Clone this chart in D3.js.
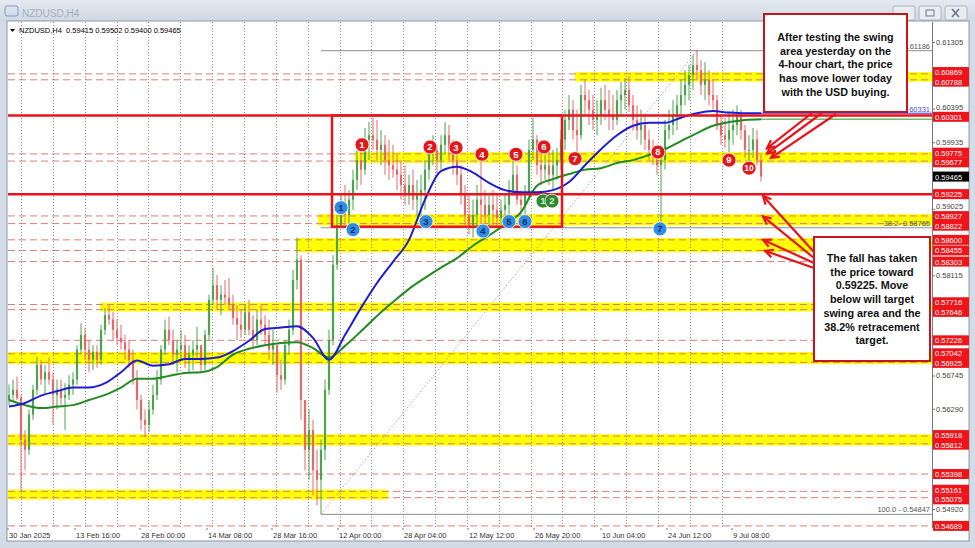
<!DOCTYPE html>
<html><head><meta charset="utf-8">
<script src="https://cdn.jsdelivr.net/npm/d3@7"></script>
<style>body{margin:0;background:#d5dde8;}svg{display:block;font-family:"Liberation Sans",Arial,sans-serif;}</style>
</head><body><svg id="c" width="975" height="548"></svg>
<script>
// ---------------- DATA ----------------
const highs=[0.5662,0.5669,0.5673,0.5648,0.5600,0.5628,0.5662,0.5700,0.5696,0.5689,
0.5699,0.5679,0.5669,0.5669,0.5664,0.5675,0.5679,0.5716,0.5746,0.5740,
0.5723,0.5716,0.5716,0.5744,0.5767,0.5771,0.5761,0.5751,0.5744,0.5730,
0.5723,0.5710,0.5682,0.5648,0.5628,0.5641,0.5662,0.5682,0.5716,0.5751,
0.5755,0.5737,0.5723,0.5737,0.5730,0.5716,0.5723,0.5741,0.5716,0.5737,
0.5785,0.5822,0.5812,0.5798,0.5805,0.5808,0.5785,0.5771,0.5764,0.5771,
0.5778,0.5757,0.5764,0.5771,0.5757,0.5751,0.5737,0.5716,0.5696,0.5723,
0.5751,0.5819,0.5863,0.5839,0.5641,0.5628,0.5614,0.5573,0.5587,0.5669,
0.5737,0.5839,0.5894,0.5921,0.5935,0.5928,0.5956,0.5983,0.5997,0.6013,
0.6021,0.6027,0.6024,0.6010,0.6003,0.5997,0.5990,0.5976,0.5969,0.5962,
0.5949,0.5956,0.5942,0.5949,0.5969,0.5997,0.6003,0.5990,0.6003,0.6021,
0.6017,0.5997,0.5990,0.5962,0.5935,0.5921,0.5915,0.5935,0.5972,0.5928,
0.5921,0.5928,0.5921,0.5915,0.5921,0.5942,0.5972,0.5962,0.5928,0.5935,
0.5997,0.6027,0.6003,0.5990,0.5986,0.5983,0.5983,0.5986,0.6010,0.6038,
0.6058,0.6051,0.6038,0.6072,0.6079,0.6065,0.6058,0.6051,0.6068,0.6072,
0.6065,0.6058,0.6065,0.6076,0.6081,0.6084,0.6058,0.6044,0.6038,0.6031,
0.6010,0.5997,0.5990,0.5983,0.6024,0.6038,0.6051,0.6058,0.6079,0.6092,
0.6099,0.6113,0.6119,0.6106,0.6103,0.6092,0.6079,0.6058,0.6031,0.6027,
0.6035,0.6038,0.6044,0.6038,0.6017,0.6003,0.6013,0.6010,0.5976];
const lows=[0.5634,0.5638,0.5641,0.5518,0.5545,0.5566,0.5614,0.5648,0.5662,0.5648,
0.5662,0.5607,0.5628,0.5634,0.5600,0.5641,0.5648,0.5662,0.5703,0.5696,
0.5679,0.5682,0.5685,0.5689,0.5730,0.5744,0.5723,0.5716,0.5710,0.5696,
0.5685,0.5662,0.5628,0.5600,0.5590,0.5597,0.5621,0.5641,0.5662,0.5703,
0.5716,0.5689,0.5679,0.5696,0.5685,0.5678,0.5682,0.5699,0.5679,0.5682,
0.5723,0.5771,0.5764,0.5757,0.5771,0.5764,0.5744,0.5723,0.5726,0.5730,
0.5730,0.5710,0.5716,0.5730,0.5716,0.5696,0.5689,0.5651,0.5655,0.5662,
0.5703,0.5730,0.5792,0.5614,0.5545,0.5532,0.5511,0.5497,0.5485,0.5559,
0.5648,0.5716,0.5819,0.5876,0.5880,0.5875,0.5901,0.5928,0.5935,0.5949,
0.5969,0.5983,0.5969,0.5962,0.5949,0.5942,0.5945,0.5928,0.5915,0.5908,
0.5908,0.5901,0.5894,0.5894,0.5901,0.5942,0.5962,0.5949,0.5956,0.5976,
0.5969,0.5949,0.5935,0.5908,0.5880,0.5867,0.5863,0.5874,0.5867,0.5876,
0.5874,0.5880,0.5876,0.5880,0.5887,0.5894,0.5921,0.5908,0.5890,0.5894,
0.5915,0.5969,0.5949,0.5935,0.5942,0.5935,0.5928,0.5942,0.5956,0.5983,
0.6010,0.5997,0.5980,0.5997,0.6031,0.6017,0.6010,0.6003,0.6017,0.6024,
0.6010,0.6010,0.6017,0.6031,0.6038,0.6035,0.6010,0.5997,0.5990,0.5983,
0.5969,0.5962,0.5949,0.5878,0.5956,0.5997,0.6003,0.6010,0.6031,0.6044,
0.6051,0.6065,0.6079,0.6058,0.6051,0.6044,0.6038,0.6010,0.5990,0.5986,
0.5980,0.5990,0.6003,0.5997,0.5972,0.5967,0.5972,0.5962,0.5940];
const closes=[0.5648,0.5655,0.5644,0.5587,0.5573,0.5621,0.5655,0.5689,0.5669,0.5679,
0.5669,0.5648,0.5655,0.5644,0.5648,0.5662,0.5669,0.5710,0.5730,0.5710,
0.5696,0.5707,0.5696,0.5737,0.5757,0.5751,0.5737,0.5726,0.5720,0.5710,
0.5696,0.5671,0.5641,0.5614,0.5607,0.5628,0.5648,0.5669,0.5710,0.5737,
0.5723,0.5703,0.5710,0.5716,0.5696,0.5703,0.5710,0.5716,0.5689,0.5730,
0.5778,0.5798,0.5778,0.5785,0.5781,0.5771,0.5753,0.5744,0.5737,0.5761,
0.5737,0.5723,0.5751,0.5744,0.5730,0.5710,0.5716,0.5675,0.5669,0.5716,
0.5737,0.5805,0.5833,0.5641,0.5573,0.5600,0.5545,0.5532,0.5573,0.5655,
0.5723,0.5826,0.5880,0.5901,0.5894,0.5915,0.5942,0.5969,0.5956,0.5997,
0.6003,0.5997,0.5983,0.5990,0.5969,0.5962,0.5956,0.5949,0.5935,0.5921,
0.5935,0.5915,0.5921,0.5928,0.5956,0.5983,0.5983,0.5969,0.5990,0.6003,
0.5983,0.5969,0.5949,0.5921,0.5894,0.5880,0.5894,0.5915,0.5908,0.5894,
0.5908,0.5901,0.5890,0.5901,0.5908,0.5928,0.5949,0.5915,0.5908,0.5921,
0.5983,0.5997,0.5962,0.5956,0.5962,0.5949,0.5962,0.5969,0.5997,0.6024,
0.6038,0.6010,0.6003,0.6058,0.6051,0.6038,0.6024,0.6031,0.6051,0.6038,
0.6031,0.6024,0.6051,0.6058,0.6065,0.6044,0.6024,0.6010,0.6017,0.5997,
0.5983,0.5976,0.5962,0.5969,0.6010,0.6017,0.6031,0.6044,0.6058,0.6072,
0.6085,0.6099,0.6092,0.6072,0.6079,0.6058,0.6051,0.6017,0.6003,0.5997,
0.6010,0.6017,0.6031,0.6010,0.5983,0.5983,0.5997,0.5969,0.59465];
const firstOpen=0.5641;
// moving averages sampled every 4th bar
const maStep=4;
const blueMA=[0.5632,0.5637,0.5647,0.5653,0.5658,0.5658,0.5664,0.5679,0.5695,0.5688,0.5690,0.5697,0.5697,0.5699,0.5708,0.5722,0.5738,0.5740,0.5742,0.5726,0.5696,0.5730,0.5767,0.5801,0.5830,0.5860,0.5915,0.5954,0.5960,0.5952,0.5938,0.5928,0.5925,0.5925,0.5928,0.5939,0.5962,0.5984,0.6003,0.6016,0.6020,0.6020,0.6027,0.6033,0.6036,0.6034,0.6033,0.6033];
const greenMA=[0.5641,0.5634,0.5630,0.5632,0.5634,0.5641,0.5648,0.5658,0.5670,0.5670,0.5674,0.5678,0.5679,0.5686,0.5703,0.5711,0.5716,0.5719,0.5720,0.5712,0.5699,0.5715,0.5735,0.5756,0.5775,0.5793,0.5808,0.5822,0.5835,0.5852,0.5866,0.5881,0.5898,0.5934,0.5943,0.5950,0.5956,0.5958,0.5965,0.5969,0.5976,0.5984,0.5995,0.6006,0.6016,0.6021,0.6024,0.6025];
// x axis
const dateLabels=["30 Jan 2025","13 Feb 16:00","28 Feb 00:00","14 Mar 08:00","28 Mar 16:00","12 Apr 00:00","28 Apr 04:00","12 May 12:00","26 May 20:00","10 Jun 04:00","24 Jun 12:00","9 Jul 08:00"];
const dateIdx=[-0.25,16.5,32.75,49.5,65.75,82.25,98.5,114.75,131.25,148,164.5,180.75];
// y axis
const priceTicks=[0.61305,0.60395,0.59935,0.59025,0.58115,0.56745,0.56290,0.54920];
const levelLabels=[0.60788,0.60869,0.60301,0.59775,0.59677,0.59225,0.58927,0.58822,0.58600,0.58455,0.58303,0.57716,0.57646,0.57226,0.57042,0.56925,0.55918,0.55812,0.55398,0.55161,0.55075,0.54689];
const solidLevels=[0.60301,0.59225];
const currentPrice=0.59465;
const bandHi=[0.60869,0.59775,0.58927,0.58600,0.57716,0.57042,0.55918,0.55161];
const bandLo=[0.60788,0.59677,0.58822,0.58455,0.57646,0.56925,0.55812,0.55075];
const bandFrom=[141.5,86.5,77.25,71.75,22.75,-0.25,-0.25,-0.25];
const bandTo=[null,null,null,null,null,null,null,94.75];
// fibonacci
const fibLowIdx=78, fibHighIdx=172;
const fibLevels=[0.61186,0.58765,0.54847];
const fibTexts=["0.61186","38.2- 0.58765","100.0 - 0.54847"];
const maLineValue=0.60331;
// swing box
const boxIdx=[80.75,138.25], boxPrice=[0.60301,0.5878];
// markers
const redNums=["1","2","3","4","5","6","7","8","9","10"];
const redIdx=[88.25,105.25,111.75,118.25,126.75,133.75,141.5,162.25,180,185];
const redPrice=[0.5990,0.5987,0.5986,0.5977,0.5977,0.5987,0.5971,0.5980,0.5969,0.5958];
const blueNums=["1","2","3","4","5","6","7"];
const blueIdx=[83,86,104.25,118.5,125,129,162.75];
const bluePrice=[0.5904,0.5874,0.5885,0.5872,0.5885,0.5885,0.5875];
const greenNums=["1","2"];
const greenIdx=[133.5,135.75];
const greenPrice=[0.5913,0.5913];
const header="NZDUSD,H4  0.59415 0.59502 0.59400 0.59465";
const note1=["After testing the swing","area yesterday on the","4-hour chart, the price","has move lower today","with the USD buying."];
const note2=["The fall has taken","the price toward","0.59225.  Move","below will target","swing area and the","38.2% retracement","target."];
// arrow tips (bar index, price)
const arrowUpIdx=[189.5,189.5,190.5], arrowUpPrice=[0.5985,0.5978,0.5972];
const arrowDnIdx=[188.5,188.5,188.5,189], arrowDnPrice=[0.5920,0.5892,0.5860,0.5845];

// ---------------- LAYOUT ----------------
const svg=d3.select("#c");
const N=closes.length;
const PL=8,PR=932,PT=22,PB=528;
const x=d3.scaleLinear().domain([0,N-1]).range([9,761]);
const y=d3.scaleLinear().domain([0.546602,0.615784]).range([PB,PT]);
const fs=7.5;

// window chrome
const defs=svg.append("defs");
const g1=defs.append("linearGradient").attr("id","tb").attr("x1",0).attr("x2",0).attr("y1",0).attr("y2",1);
g1.append("stop").attr("offset","0").attr("stop-color","#e4eaf2");
g1.append("stop").attr("offset","1").attr("stop-color","#cfd8e3");
svg.append("rect").attr("width",975).attr("height",548).attr("fill","#d3dbe6");
svg.append("rect").attr("width",975).attr("height",21).attr("fill","url(#tb)");
svg.append("rect").attr("x",5).attr("y",6).attr("width",13).attr("height",10).attr("fill","none").attr("stroke","#7d9bc4").attr("rx",2);
svg.append("text").attr("x",22).attr("y",17).attr("font-size",10).attr("fill","#a4aebd").text("NZDUSD,H4");
[893,919,945].forEach((bx,i)=>{
  svg.append("rect").attr("x",bx).attr("y",6).attr("width",22).attr("height",14).attr("rx",2).attr("fill","#e8edf3").attr("stroke","#aab4c2");
});
svg.append("rect").attr("x",926).attr("y",10).attr("width",8).attr("height",6).attr("fill","none").attr("stroke","#6a7788");
svg.append("path").attr("d","M952,9 L959,17 M959,9 L952,17").attr("stroke","#6a7788").attr("stroke-width",1.6);
svg.append("path").attr("d","M900,15 L908,15").attr("stroke","#6a7788").attr("stroke-width",1.6);
svg.append("rect").attr("x",7).attr("y",21).attr("width",962).attr("height",520).attr("fill","#fff").attr("stroke","#8c97a6");

svg.append("clipPath").attr("id","pc").append("rect").attr("x",PL).attr("y",PT).attr("width",PR-PL).attr("height",PB-PT);
const P=svg.append("g").attr("clip-path","url(#pc)");

// yellow bands
bandHi.forEach((h,i)=>{
  const xa=x(bandFrom[i]), xb=bandTo[i]==null?PR:x(bandTo[i]);
  P.append("rect").attr("x",xa).attr("width",xb-xa).attr("y",y(h)-1.8).attr("height",y(bandLo[i])-y(h)+3.6).attr("fill","#ffff00");
});
// dashed level lines
levelLabels.filter(v=>!solidLevels.includes(v)).forEach(v=>{
  P.append("line").attr("x1",PL).attr("x2",PR).attr("y1",y(v)).attr("y2",y(v)).attr("stroke","#d9807a").attr("stroke-width",1).attr("stroke-dasharray","7,4");
});
// grid
for(let gx=21;gx<=752;gx+=31.85){
  P.append("line").attr("x1",Math.round(gx)+0.5).attr("x2",Math.round(gx)+0.5).attr("y1",PT).attr("y2",PB).attr("stroke","#8a8a8a").attr("stroke-width",1).attr("stroke-dasharray","1,2");
}
// fib lines
fibLevels.forEach((v,i)=>{
  P.append("line").attr("x1",x(fibLowIdx)).attr("x2",PR).attr("y1",y(v)).attr("y2",y(v)).attr("stroke","#8d8d8d").attr("stroke-width",1);
  P.append("text").attr("x",PR-2).attr("y",y(v)-2).attr("text-anchor","end").attr("font-size",fs).attr("fill","#555").text(fibTexts[i]);
});
P.append("line").attr("x1",x(fibLowIdx)).attr("y1",y(fibLevels[2])).attr("x2",x(fibHighIdx)).attr("y2",y(fibLevels[0])).attr("stroke","#c99a9a").attr("stroke-width",1).attr("stroke-dasharray","1.5,2");

// candles
const cg=P.append("g");
closes.forEach((c,i)=>{
  const o=i===0?firstOpen:closes[i-1];
  const up=c>=o;
  const col=up?"#4fa24f":"#e46a6a";
  const hi=Math.max(highs[i],o,c), lo=Math.min(lows[i],o,c);
  cg.append("line").attr("x1",x(i)).attr("x2",x(i)).attr("y1",y(hi)).attr("y2",y(lo)).attr("stroke",col).attr("stroke-width",1);
  const yt=y(Math.max(o,c)), yb=y(Math.min(o,c));
  cg.append("rect").attr("x",x(i)-1.1).attr("width",2.2).attr("y",yt).attr("height",Math.max(1,yb-yt)).attr("fill",col);
});
// MA lines
const maLine=d3.line().x((d,i)=>x(i*maStep)).y(d=>y(d)).curve(d3.curveMonotoneX);
P.append("path").datum(greenMA).attr("d",maLine).attr("fill","none").attr("stroke","#218a21").attr("stroke-width",2);
P.append("path").datum(blueMA).attr("d",maLine).attr("fill","none").attr("stroke","#1c1cd0").attr("stroke-width",2);
P.append("line").attr("x1",x(N-1)).attr("x2",PR).attr("y1",y(maLineValue)).attr("y2",y(maLineValue)).attr("stroke","#3a3ad8").attr("stroke-width",1);
P.append("line").attr("x1",x(N-1)).attr("x2",PR).attr("y1",y(greenMA[greenMA.length-1])).attr("y2",y(greenMA[greenMA.length-1])).attr("stroke","#2a9a2a").attr("stroke-width",1);
P.append("text").attr("x",PR-2).attr("y",y(maLineValue)-1).attr("text-anchor","end").attr("font-size",fs).attr("fill","#4a4ad8").text(maLineValue.toFixed(5));
// solid levels
solidLevels.forEach(v=>{
  P.append("line").attr("x1",PL).attr("x2",PR).attr("y1",y(v)).attr("y2",y(v)).attr("stroke","#e8141c").attr("stroke-width",2.5);
});
// swing box
P.append("rect").attr("x",x(boxIdx[0])).attr("y",y(boxPrice[0])).attr("width",x(boxIdx[1])-x(boxIdx[0])).attr("height",y(boxPrice[1])-y(boxPrice[0])).attr("fill","none").attr("stroke","#e8141c").attr("stroke-width",2.5);

// markers
function marks(nums,idx,pr,fill,tc){
  nums.forEach((n,i)=>{
    const g=P.append("g").attr("transform",`translate(${x(idx[i])},${y(pr[i])})`);
    g.append("circle").attr("r",7).attr("fill",fill).attr("stroke","#fff").attr("stroke-width",0.8);
    g.append("text").attr("y",3.3).attr("text-anchor","middle").attr("font-size",n.length>1?8.5:9.5).attr("font-weight","bold").attr("fill",tc).text(n);
  });
}
marks(greenNums,greenIdx,greenPrice,"#2f8a2f","#d8f0d8");
marks(blueNums,blueIdx,bluePrice,"#2f8de4","#0d2f6e");
marks(redNums,redIdx,redPrice,"#e3161c","#fff");

// header
svg.append("path").attr("d","M10,29 L15,29 L12.5,32 Z").attr("fill","#000");
svg.append("text").attr("x",19).attr("y",33).attr("font-size",fs).attr("fill","#000").style("white-space","pre").text(header);

// axes
svg.append("line").attr("x1",PR+0.5).attr("x2",PR+0.5).attr("y1",PT).attr("y2",PB).attr("stroke","#7a7a7a");
// all right-hand labels, nudged apart where they crowd each other
const items=priceTicks.map(v=>({v,kind:"tick"}))
  .concat(levelLabels.map(v=>({v,kind:"level"})))
  .concat([{v:currentPrice,kind:"cur"}])
  .map(d=>Object.assign(d,{py:y(d.v)})).sort((a,b)=>a.py-b.py);
const GAP=9.6;
for(let it=0;it<60;it++){
  for(let i=1;i<items.length;i++){
    const d=items[i].py-items[i-1].py;
    if(d<GAP){const s=(GAP-d)/2;items[i].py+=s;items[i-1].py-=s;}
  }
}
const yAxis=d3.axisRight(y).tickValues(priceTicks).tickSize(3).tickFormat(d3.format(".5f"));
const ya=svg.append("g").attr("transform",`translate(${PR},0)`).call(yAxis);
ya.select(".domain").remove();
ya.selectAll("line").attr("stroke","#777");
ya.selectAll("text").attr("font-size",fs).attr("fill","#444").attr("x",4).attr("font-family","Liberation Sans, Arial")
  .attr("y",v=>{const it=items.find(d=>d.kind==="tick"&&d.v===v);return it.py-y(v);});
items.filter(d=>d.kind!=="tick").forEach(d=>{
  svg.append("rect").attr("x",PR+1).attr("y",d.py-5).attr("width",36).attr("height",10).attr("fill",d.kind==="cur"?"#000":"#f0141a");
  svg.append("text").attr("x",PR+3).attr("y",d.py+3).attr("font-size",fs).attr("fill","#fff").text(d.v.toFixed(5));
});

const xa=svg.append("g").attr("transform",`translate(0,${PB})`);
dateLabels.forEach((t,i)=>{
  xa.append("line").attr("x1",x(dateIdx[i])).attr("x2",x(dateIdx[i])).attr("y1",0).attr("y2",2).attr("stroke","#777");
  xa.append("text").attr("x",x(dateIdx[i])+1).attr("y",10).attr("font-size",fs).attr("fill","#333").text(t);
});

// annotations
function note(x0,y0,w,h,lines,ly,cx){
  svg.append("rect").attr("x",x0).attr("y",y0).attr("width",w).attr("height",h).attr("fill","#fff").attr("stroke","#c8141c").attr("stroke-width",2);
  lines.forEach((t,i)=>svg.append("text").attr("x",cx).attr("y",ly+i*13.7).attr("text-anchor","middle").attr("font-size",10.8).attr("font-weight","bold").attr("fill","#111").text(t));
}
function arrow(x1,y1,x2,y2){
  const a=Math.atan2(y2-y1,x2-x1), L=9, s=0.45;
  svg.append("line").attr("x1",x1).attr("y1",y1).attr("x2",x2).attr("y2",y2).attr("stroke","#e8141c").attr("stroke-width",2.2);
  svg.append("path").attr("d",`M${x2-L*Math.cos(a-s)},${y2-L*Math.sin(a-s)} L${x2},${y2} L${x2-L*Math.cos(a+s)},${y2-L*Math.sin(a+s)}`).attr("fill","none").attr("stroke","#e8141c").attr("stroke-width",2.2);
}
note(764,14,143,98,note1,41,835.5);
note(814,237,116,124,note2,262,872);
const upTails=[[812,113],[822,113],[836,114]];
arrowUpIdx.forEach((d,i)=>arrow(upTails[i][0],upTails[i][1],x(d),y(arrowUpPrice[i])));
const dnTails=[[814,252],[814,258],[814,263],[814,268]];
arrowDnIdx.forEach((d,i)=>arrow(dnTails[i][0],dnTails[i][1],x(d),y(arrowDnPrice[i])));
</script></body></html>
